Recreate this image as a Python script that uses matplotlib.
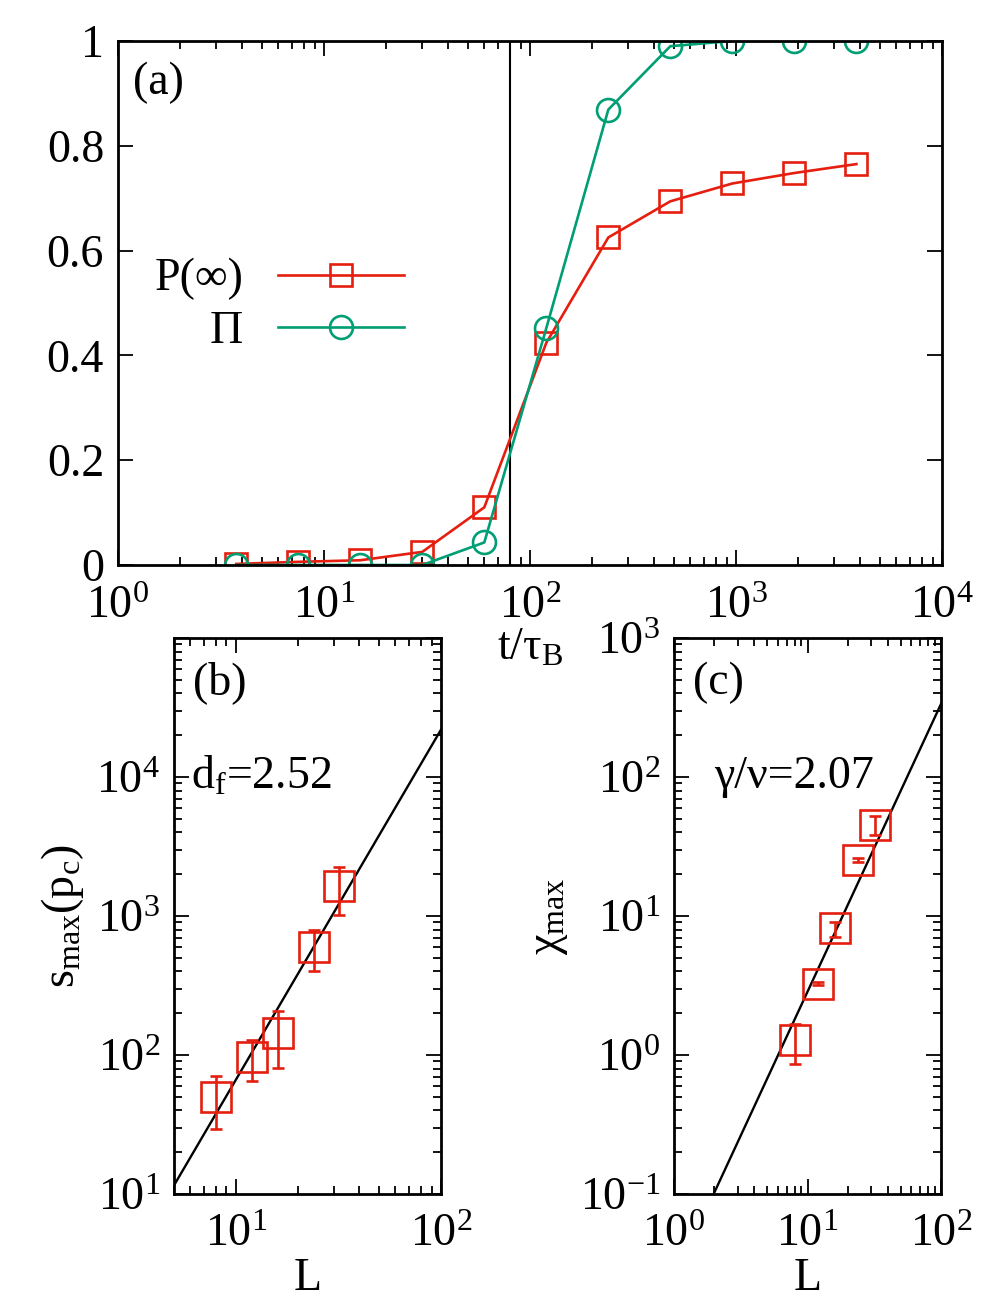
import numpy as np
import matplotlib
matplotlib.use("Agg")
import matplotlib.pyplot as plt
from matplotlib.ticker import LogLocator, NullFormatter, FixedLocator

plt.rcParams['font.family'] = ['Liberation Serif', 'DejaVu Serif']
plt.rcParams['mathtext.fontset'] = 'custom'
plt.rcParams['mathtext.rm'] = 'Liberation Serif'
plt.rcParams['mathtext.it'] = 'Liberation Serif:italic'
plt.rcParams['mathtext.bf'] = 'Liberation Serif:bold'
plt.rcParams['axes.unicode_minus'] = True

FS = 33
RED = '#e51e10'
GREEN = '#009e73'
LW = 1.9

# ---------------- data ----------------
# panel (a)
t_over_tau = [3.75, 7.5, 15, 30, 60, 120, 240, 480, 960, 1920, 3840]
P_inf = [0.002, 0.006, 0.009, 0.025, 0.11, 0.424, 0.625, 0.694, 0.728, 0.748, 0.765]
Pi = [0.0, 0.0, 0.0, 0.0, 0.043, 0.452, 0.869, 0.990, 1.0, 1.0, 1.0]
t_c = 80

# panel (b)
L_b = [8, 12, 16, 24, 32]
s_max = [50, 97, 143, 598, 1650]
s_err_lo = [29.6, 65, 80.5, 401, 1020]
s_err_hi = [71, 128, 206, 791, 2265]
df = 2.52
A_b = 0.2

# panel (c)
L_c = [8, 12, 16, 24, 32]
chi_max = [1.28, 3.27, 8.16, 25.2, 45.5]
chi_err_lo = [0.86, 3.17, 7.1, 24.4, 38.6]
chi_err_hi = [1.67, 3.37, 9.1, 26.0, 52.7]
gnu = 2.07
A_c = 0.0243

fig = plt.figure(figsize=(10, 13), dpi=100)

def style(ax):
    for s in ax.spines.values():
        s.set_linewidth(2.0)
    ax.tick_params(which='both', direction='in', top=True, right=True,
                   labelsize=FS, width=1.3, pad=10)
    ax.tick_params(which='major', length=11)
    ax.tick_params(which='minor', length=5.5)

# ---------------- (a) ----------------
axa = fig.add_axes([0.118, 0.5654, 0.824, 0.4031])
axa.set_xscale('log')
axa.set_xlim(1, 1e4)
axa.set_ylim(0, 1)
axa.axvline(t_c, color='black', lw=1.5)
axa.plot(t_over_tau, P_inf, color=RED, lw=LW, marker='s', ms=16,
         mfc='none', mec=RED, mew=LW, label='P(∞)')
axa.plot(t_over_tau, Pi, color=GREEN, lw=LW, marker='o', ms=16.5,
         mfc='none', mec=GREEN, mew=LW, label='Π')
axa.set_yticks([0, 0.2, 0.4, 0.6, 0.8, 1.0])
axa.set_yticklabels(['0', '0.2', '0.4', '0.6', '0.8', '1'])
axa.xaxis.set_major_locator(LogLocator(base=10, numticks=10))
axa.xaxis.set_minor_locator(LogLocator(base=10, subs=np.arange(2, 10), numticks=20))
axa.xaxis.set_minor_formatter(NullFormatter())
style(axa)
axa.tick_params(axis='x', pad=15)
axa.set_xlabel(r'$\mathrm{t/\tau_B}$', fontsize=FS)
axa.xaxis.set_label_coords(0.5, -0.118)
axa.text(0.018, 0.92, '(a)', transform=axa.transAxes, fontsize=FS,
         ha='left', va='center')
leg = axa.legend(loc='center left', bbox_to_anchor=(0.022, 0.495), frameon=False,
                 fontsize=FS, markerfirst=False, handlelength=2.75,
                 handletextpad=0.75, labelspacing=0.22, borderaxespad=0.0)
for txt in leg.get_texts():
    txt.set_ha('right')
leg._legend_box.align = 'right'

# ---------------- (b) ----------------
axb = fig.add_axes([0.174, 0.0815, 0.267, 0.4277])
axb.set_xscale('log')
axb.set_yscale('log')
axb.set_xlim(5, 100)
axb.set_ylim(10, 1e5)
Lfit_b = np.logspace(np.log10(5), 2, 100)
axb.plot(Lfit_b, A_b * Lfit_b ** df, color='black', lw=1.7)
yerr_b = [np.array(s_max) - np.array(s_err_lo), np.array(s_err_hi) - np.array(s_max)]
axb.errorbar(L_b, s_max, yerr=yerr_b, fmt='s', ms=21.5, mfc='none', mec=RED,
             mew=LW, ecolor=RED, elinewidth=LW, capsize=4.5, capthick=LW)
axb.xaxis.set_major_locator(LogLocator(base=10, numticks=10))
axb.xaxis.set_minor_locator(LogLocator(base=10, subs=np.arange(2, 10), numticks=20))
axb.xaxis.set_minor_formatter(NullFormatter())
axb.yaxis.set_major_locator(FixedLocator([10, 100, 1000, 1e4, 1e5]))
axb.yaxis.set_minor_locator(LogLocator(base=10, subs=np.arange(2, 10), numticks=20))
axb.yaxis.set_minor_formatter(NullFormatter())
axb.set_yticklabels([r'$10^{1}$', r'$10^{2}$', r'$10^{3}$', r'$10^{4}$', ''])
style(axb)
axb.tick_params(axis='x', pad=14)
axb.set_xlabel('L', fontsize=FS)
axb.xaxis.set_label_coords(0.5, -0.115)
axb.set_ylabel(r'$\mathrm{s_{max}(p_c)}$', fontsize=FS)
axb.yaxis.set_label_coords(-0.33, 0.5)
axb.text(0.07, 0.92, '(b)', transform=axb.transAxes, fontsize=FS,
         ha='left', va='center')
axb.text(0.065, 0.75, r'$\mathrm{d_f}$=2.52', transform=axb.transAxes,
         fontsize=FS, ha='left', va='center')

# ---------------- (c) ----------------
axc = fig.add_axes([0.674, 0.0815, 0.267, 0.4277])
axc.set_xscale('log')
axc.set_yscale('log')
axc.set_xlim(1, 100)
axc.set_ylim(0.1, 1000)
Lfit_c = np.logspace(0, 2, 100)
axc.plot(Lfit_c, A_c * Lfit_c ** gnu, color='black', lw=1.7)
yerr_c = [np.array(chi_max) - np.array(chi_err_lo), np.array(chi_err_hi) - np.array(chi_max)]
axc.errorbar(L_c, chi_max, yerr=yerr_c, fmt='s', ms=21.5, mfc='none', mec=RED,
             mew=LW, ecolor=RED, elinewidth=LW, capsize=4.5, capthick=LW)
axc.xaxis.set_major_locator(LogLocator(base=10, numticks=10))
axc.xaxis.set_minor_locator(LogLocator(base=10, subs=np.arange(2, 10), numticks=20))
axc.xaxis.set_minor_formatter(NullFormatter())
axc.yaxis.set_major_locator(LogLocator(base=10, numticks=10))
axc.yaxis.set_minor_locator(LogLocator(base=10, subs=np.arange(2, 10), numticks=20))
axc.yaxis.set_minor_formatter(NullFormatter())
style(axc)
axc.tick_params(axis='x', pad=14)
axc.set_xlabel('L', fontsize=FS)
axc.xaxis.set_label_coords(0.5, -0.115)
axc.set_ylabel(r'$\mathrm{\chi_{max}}$', fontsize=FS)
axc.yaxis.set_label_coords(-0.39, 0.5)
axc.text(0.07, 0.92, '(c)', transform=axc.transAxes, fontsize=FS,
         ha='left', va='center')
axc.text(0.15, 0.75, 'γ/ν=2.07', transform=axc.transAxes,
         fontsize=FS, ha='left', va='center')

fig.savefig('out.png', dpi=100)
